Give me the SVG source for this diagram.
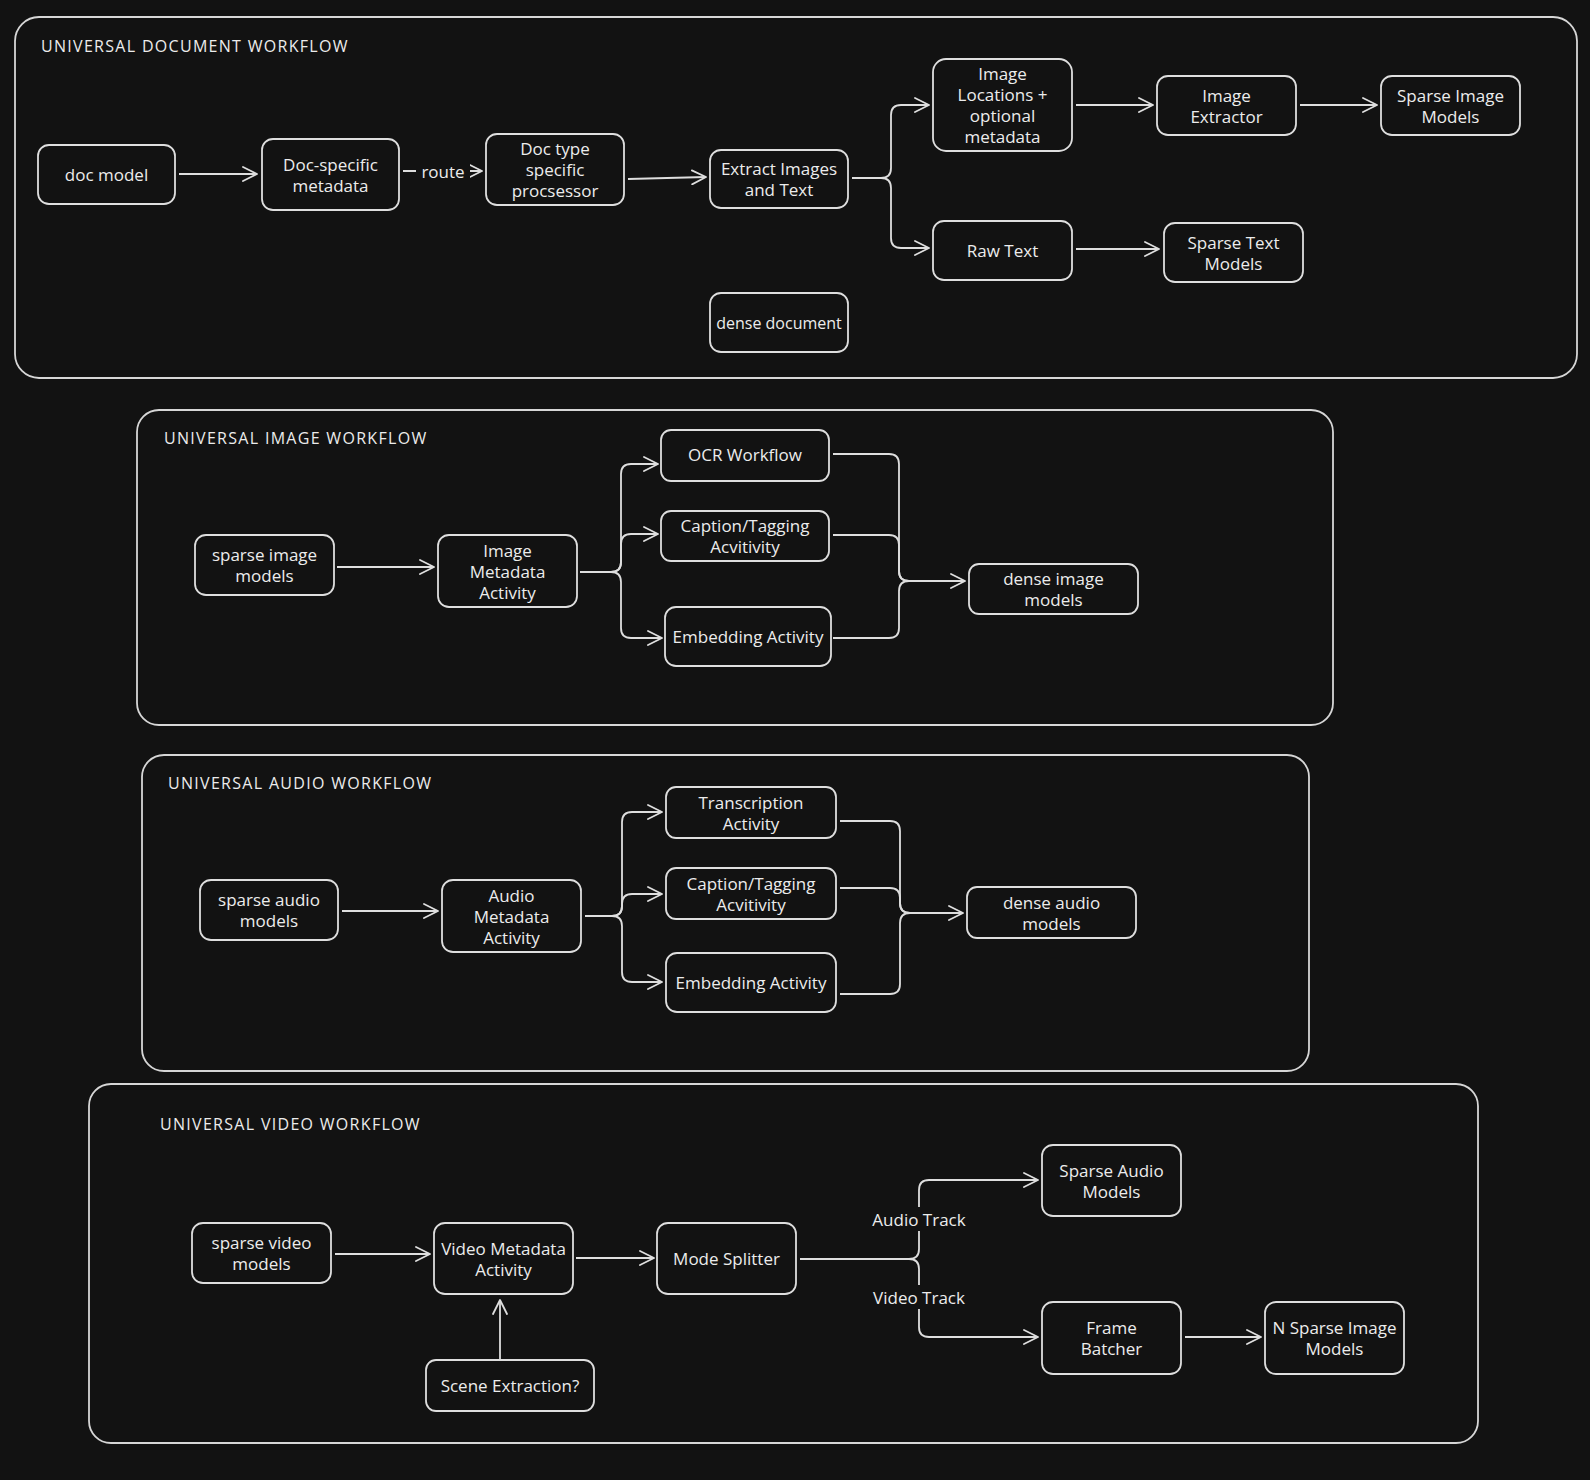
<svg xmlns="http://www.w3.org/2000/svg" width="1590" height="1480" viewBox="0 0 1590 1480">
<defs>
<style>
.bg{fill:#121212}
.frame{fill:none;stroke:#d6d6d6;stroke-width:1.8}
.node rect{fill:#121212;stroke:#dedede;stroke-width:1.8}
.node text,.lbl{fill:#ececec;font-family:"Open Sans","Liberation Sans",sans-serif;font-size:17px;text-anchor:middle;dominant-baseline:central}
.node text.sm{font-size:16px}
.title{fill:#ececec;font-family:"Open Sans","Liberation Sans",sans-serif;font-size:16px;letter-spacing:1.3px}
.conn path{fill:none;stroke:#dedede;stroke-width:1.8}
.lblbg{fill:#121212}
</style>
<marker id="arr" viewBox="0 0 16 16" refX="15" refY="8" markerWidth="16" markerHeight="16" markerUnits="userSpaceOnUse" orient="auto">
<path d="M1,1 L15,8 L1,15" fill="none" stroke="#dedede" stroke-width="1.8" stroke-linecap="round" stroke-linejoin="round"/>
</marker>
</defs>
<rect class="bg" x="0" y="0" width="1590" height="1480"/>

<!-- containers -->
<g id="doc-workflow">
<rect class="frame" x="15" y="17" width="1562" height="361" rx="24"/>
<text class="title" x="41" y="52">UNIVERSAL DOCUMENT WORKFLOW</text>
</g>
<g id="image-workflow">
<rect class="frame" x="137" y="410" width="1196" height="315" rx="22"/>
<text class="title" x="164" y="444">UNIVERSAL IMAGE WORKFLOW</text>
</g>
<g id="audio-workflow">
<rect class="frame" x="142" y="755" width="1167" height="316" rx="22"/>
<text class="title" x="168" y="789">UNIVERSAL AUDIO WORKFLOW</text>
</g>
<g id="video-workflow">
<rect class="frame" x="89" y="1084" width="1389" height="359" rx="22"/>
<text class="title" x="160" y="1130">UNIVERSAL VIDEO WORKFLOW</text>
</g>

<!-- connectors -->
<g id="connectors" class="conn">
<path d="M179,174 H257" marker-end="url(#arr)"/>
<path d="M403,171 H482" marker-end="url(#arr)"/>
<path d="M628,179 L706,177" marker-end="url(#arr)"/>
<path d="M852,178 H881 Q891,178 891,168 V115 Q891,105 901,105 H929" marker-end="url(#arr)"/>
<path d="M852,178 H881 Q891,178 891,188 V238 Q891,248 901,248 H929" marker-end="url(#arr)"/>
<path d="M1076,105 H1153" marker-end="url(#arr)"/>
<path d="M1300,105 H1377" marker-end="url(#arr)"/>
<path d="M1076,249 H1159" marker-end="url(#arr)"/>

<path d="M337,567 H434" marker-end="url(#arr)"/>
<path d="M580,572 H611 Q621,572 621,562 V474 Q621,464 631,464 H658" marker-end="url(#arr)"/>
<path d="M580,572 H611 Q621,572 621,562 V544 Q621,534 631,534 H658" marker-end="url(#arr)"/>
<path d="M580,572 H611 Q621,572 621,582 V628 Q621,638 631,638 H662" marker-end="url(#arr)"/>
<path d="M833,454 H889 Q899,454 899,464 V571 Q899,581 909,581 H965" marker-end="url(#arr)"/>
<path d="M833,535 H889 Q899,535 899,545 V571 Q899,581 909,581"/>
<path d="M833,638 H889 Q899,638 899,628 V591 Q899,581 909,581"/>

<path d="M342,911 H438" marker-end="url(#arr)"/>
<path d="M585,916 H612 Q622,916 622,906 V822 Q622,812 632,812 H662" marker-end="url(#arr)"/>
<path d="M585,916 H612 Q622,916 622,906 V904 Q622,894 632,894 H662" marker-end="url(#arr)"/>
<path d="M585,916 H612 Q622,916 622,926 V972 Q622,982 632,982 H662" marker-end="url(#arr)"/>
<path d="M840,821 H890 Q900,821 900,831 V903 Q900,913 910,913 H963" marker-end="url(#arr)"/>
<path d="M840,888 H890 Q900,888 900,898 V903 Q900,913 910,913"/>
<path d="M840,994 H890 Q900,994 900,984 V923 Q900,913 910,913"/>

<path d="M335,1254 H430" marker-end="url(#arr)"/>
<path d="M576,1258 H654" marker-end="url(#arr)"/>
<path d="M500,1359 V1300" marker-end="url(#arr)"/>
<path d="M800,1259 H909 Q919,1259 919,1249 V1190 Q919,1180 929,1180 H1038" marker-end="url(#arr)"/>
<path d="M800,1259 H909 Q919,1259 919,1269 V1327 Q919,1337 929,1337 H1038" marker-end="url(#arr)"/>
<path d="M1185,1337 H1261" marker-end="url(#arr)"/>

<rect class="lblbg" x="416" y="160" width="54" height="22"/>
<text class="lbl" x="443" y="171">route</text>
<rect class="lblbg" x="866" y="1207" width="106" height="24"/>
<text class="lbl" x="919" y="1219">Audio Track</text>
<rect class="lblbg" x="866" y="1285" width="106" height="24"/>
<text class="lbl" x="919" y="1297">Video Track</text>
</g>

<!-- document nodes -->
<g id="doc-model" class="node"><rect x="38" y="145" width="137" height="59" rx="11"/><text x="106.5" y="174.5">doc model</text></g>
<g id="doc-specific-metadata" class="node"><rect x="262" y="139" width="137" height="71" rx="11"/><text x="330.5" y="164">Doc-specific</text><text x="330.5" y="185">metadata</text></g>
<g id="doc-type-processor" class="node"><rect x="486" y="134" width="138" height="71" rx="11"/><text x="555" y="148.5">Doc type</text><text x="555" y="169.5">specific</text><text x="555" y="190.5">procsessor</text></g>
<g id="extract-images-text" class="node"><rect x="710" y="150" width="138" height="58" rx="11"/><text x="779" y="168.5">Extract Images</text><text x="779" y="189.5">and Text</text></g>
<g id="image-locations" class="node"><rect x="933" y="59" width="139" height="92" rx="13"/><text x="1002.5" y="73.5">Image</text><text x="1002.5" y="94.5">Locations +</text><text x="1002.5" y="115.5">optional</text><text x="1002.5" y="136.5">metadata</text></g>
<g id="image-extractor" class="node"><rect x="1157" y="76" width="139" height="59" rx="11"/><text x="1226.5" y="95">Image</text><text x="1226.5" y="116">Extractor</text></g>
<g id="sparse-image-models-doc" class="node"><rect x="1381" y="76" width="139" height="59" rx="11"/><text x="1450.5" y="95">Sparse Image</text><text x="1450.5" y="116">Models</text></g>
<g id="raw-text" class="node"><rect x="933" y="221" width="139" height="59" rx="11"/><text x="1002.5" y="250.5">Raw Text</text></g>
<g id="sparse-text-models" class="node"><rect x="1164" y="223" width="139" height="59" rx="11"/><text x="1233.5" y="242">Sparse Text</text><text x="1233.5" y="263">Models</text></g>
<g id="dense-document" class="node"><rect x="710" y="293" width="138" height="59" rx="11"/><text class="sm" x="779" y="322.5">dense document</text></g>

<!-- image nodes -->
<g id="sparse-image-models" class="node"><rect x="195" y="535" width="139" height="60" rx="11"/><text x="264.5" y="554.5">sparse image</text><text x="264.5" y="575.5">models</text></g>
<g id="image-metadata-activity" class="node"><rect x="438" y="535" width="139" height="72" rx="11"/><text x="507.5" y="550">Image</text><text x="507.5" y="571">Metadata</text><text x="507.5" y="592">Activity</text></g>
<g id="ocr-workflow" class="node"><rect x="661" y="430" width="168" height="51" rx="10"/><text x="745" y="454">OCR Workflow</text></g>
<g id="caption-tagging-image" class="node"><rect x="661" y="511" width="168" height="50" rx="10"/><text x="745" y="525.5">Caption/Tagging</text><text x="745" y="546.5">Acvitivity</text></g>
<g id="embedding-image" class="node"><rect x="665" y="607" width="166" height="59" rx="11"/><text x="748" y="636.5">Embedding Activity</text></g>
<g id="dense-image-models" class="node"><rect x="969" y="564" width="169" height="50" rx="10"/><text x="1053.5" y="578.5">dense image</text><text x="1053.5" y="599.5">models</text></g>

<!-- audio nodes -->
<g id="sparse-audio-models" class="node"><rect x="200" y="880" width="138" height="60" rx="11"/><text x="269" y="899.5">sparse audio</text><text x="269" y="920.5">models</text></g>
<g id="audio-metadata-activity" class="node"><rect x="442" y="880" width="139" height="72" rx="11"/><text x="511.5" y="895">Audio</text><text x="511.5" y="916">Metadata</text><text x="511.5" y="937">Activity</text></g>
<g id="transcription-activity" class="node"><rect x="666" y="787" width="170" height="51" rx="10"/><text x="751" y="802">Transcription</text><text x="751" y="823">Activity</text></g>
<g id="caption-tagging-audio" class="node"><rect x="666" y="868" width="170" height="51" rx="10"/><text x="751" y="883">Caption/Tagging</text><text x="751" y="904">Acvitivity</text></g>
<g id="embedding-audio" class="node"><rect x="666" y="953" width="170" height="59" rx="11"/><text x="751" y="982.5">Embedding Activity</text></g>
<g id="dense-audio-models" class="node"><rect x="967" y="887" width="169" height="51" rx="10"/><text x="1051.5" y="902">dense audio</text><text x="1051.5" y="923">models</text></g>

<!-- video nodes -->
<g id="sparse-video-models" class="node"><rect x="192" y="1223" width="139" height="60" rx="11"/><text x="261.5" y="1242.5">sparse video</text><text x="261.5" y="1263.5">models</text></g>
<g id="video-metadata-activity" class="node"><rect x="434" y="1223" width="139" height="71" rx="11"/><text x="503.5" y="1248">Video Metadata</text><text x="503.5" y="1269">Activity</text></g>
<g id="mode-splitter" class="node"><rect x="657" y="1223" width="139" height="71" rx="11"/><text x="726.5" y="1258.5">Mode Splitter</text></g>
<g id="scene-extraction" class="node"><rect x="426" y="1360" width="168" height="51" rx="10"/><text x="510" y="1385.5">Scene Extraction?</text></g>
<g id="sparse-audio-models-video" class="node"><rect x="1042" y="1145" width="139" height="71" rx="11"/><text x="1111.5" y="1170">Sparse Audio</text><text x="1111.5" y="1191">Models</text></g>
<g id="frame-batcher" class="node"><rect x="1042" y="1302" width="139" height="72" rx="11"/><text x="1111.5" y="1327.5">Frame</text><text x="1111.5" y="1348.5">Batcher</text></g>
<g id="n-sparse-image-models" class="node"><rect x="1265" y="1302" width="139" height="72" rx="11"/><text x="1334.5" y="1327.5">N Sparse Image</text><text x="1334.5" y="1348.5">Models</text></g>
</svg>
